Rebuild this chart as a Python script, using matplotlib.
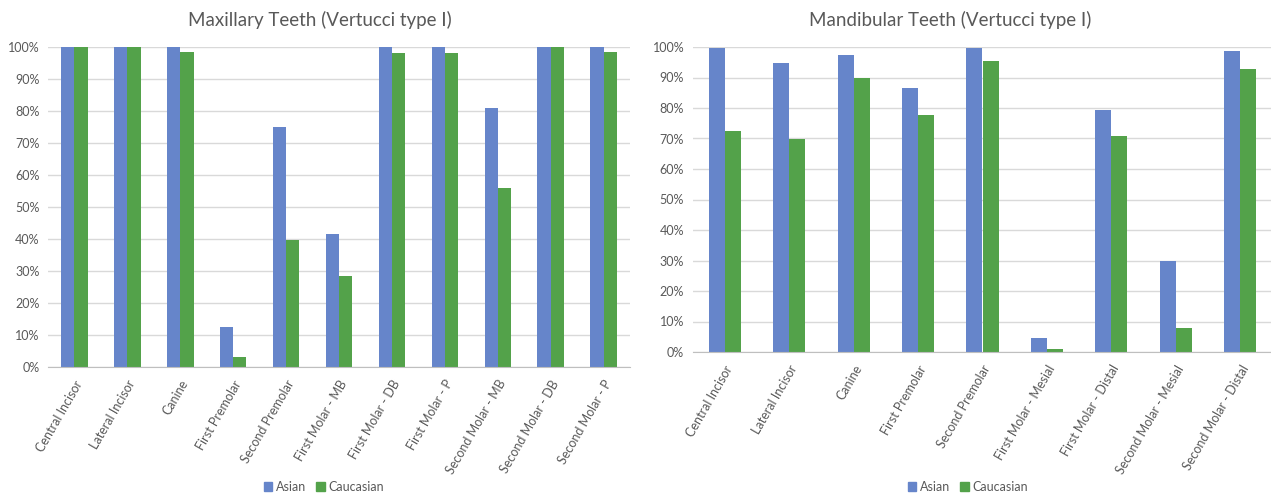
import matplotlib.pyplot as plt
from matplotlib.patches import Patch
import numpy as np

# Maxillary teeth (Vertucci type I), percent
max_teeth = ["Central Incisor", "Lateral Incisor", "Canine", "First Premolar",
             "Second Premolar", "First Molar - MB", "First Molar - DB",
             "First Molar - P", "Second Molar - MB", "Second Molar - DB",
             "Second Molar - P"]
max_asian = [100, 100, 100, 12.4, 75.0, 41.6, 100, 100, 81.0, 100, 100]
max_cauc = [100, 100, 98.4, 3.2, 39.7, 28.5, 98.2, 98.2, 56.0, 100, 98.4]

# Mandibular teeth (Vertucci type I), percent
man_teeth = ["Central Incisor", "Lateral Incisor", "Canine", "First Premolar",
             "Second Premolar", "First Molar - Mesial", "First Molar - Distal",
             "Second Molar - Mesial", "Second Molar - Distal"]
man_asian = [99.8, 94.9, 97.3, 86.6, 99.8, 4.5, 79.5, 29.8, 98.7]
man_cauc = [72.5, 69.8, 90.0, 77.8, 95.5, 1.0, 70.8, 8.0, 92.8]

yticks = [0, 10, 20, 30, 40, 50, 60, 70, 80, 90, 100]

BLUE = "#6685CA"
GREEN = "#53A24A"
TXT = "#595959"

plt.rcParams['font.family'] = ['Lato', 'DejaVu Sans']

fig = plt.figure(figsize=(12.71, 4.95), dpi=100)


def draw(ax, cats, asian, cauc):
    x = np.arange(len(cats))
    w = 0.25
    ax.bar(x - w / 2, asian, w, color=BLUE, zorder=3)
    ax.bar(x + w / 2, cauc, w, color=GREEN, zorder=3)
    ax.set_xlim(-0.5, len(cats) - 0.5)
    ax.set_ylim(0, 100)
    ax.set_yticks(yticks)
    ax.set_yticklabels([f"{t}%" for t in yticks], color=TXT, fontsize=9)
    ax.set_xticks(x)
    ax.set_xticklabels(cats, rotation=60, ha="right", rotation_mode="anchor",
                       color=TXT, fontsize=9)
    ax.grid(axis="y", color="#D9D9D9", linewidth=1, zorder=0)
    for s in ["top", "right", "left"]:
        ax.spines[s].set_visible(False)
    ax.spines["bottom"].set_color("#BFBFBF")
    ax.spines["bottom"].set_zorder(4)
    ax.tick_params(axis="both", length=0, pad=6)
    ax.tick_params(axis="x", pad=8)


ax1 = fig.add_axes([48 / 1271, 1 - 367 / 495, 582 / 1271, 320 / 495])
draw(ax1, max_teeth, max_asian, max_cauc)

ax2 = fig.add_axes([692.5 / 1271, 1 - 352 / 495, 580 / 1271, 305 / 495])
draw(ax2, man_teeth, man_asian, man_cauc)

fig.text(320 / 1271, 1 - 20 / 495, "Maxillary Teeth (Vertucci type I)",
         ha="center", va="center", fontsize=13.5, color=TXT)
fig.text(950 / 1271, 1 - 20 / 495, "Mandibular Teeth (Vertucci type I)",
         ha="center", va="center", fontsize=13.5, color=TXT)

handles = [Patch(color=BLUE, label="Asian"), Patch(color=GREEN, label="Caucasian")]
for cx in [324, 968]:
    fig.legend(handles=handles, loc="center", ncol=2, frameon=False,
               bbox_to_anchor=(cx / 1271, 1 - 487 / 495), fontsize=9,
               handlelength=0.7, handleheight=0.7, handletextpad=0.3,
               columnspacing=0.8, labelcolor=TXT)

fig.savefig("out.png", dpi=100)
